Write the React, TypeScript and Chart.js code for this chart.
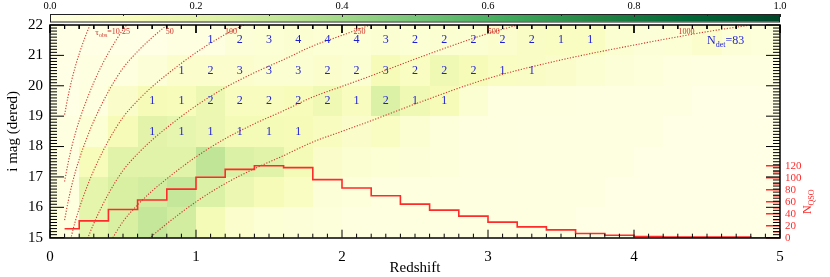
import React, { useEffect, useRef } from "react";
import { Chart, registerables } from "chart.js";

Chart.register(...registerables);

const SERIF = "'Liberation Serif', 'DejaVu Serif', serif";

// ---------------- data ----------------
const zEdges = [0, 0.2, 0.4, 0.6, 0.8, 1, 1.2, 1.4, 1.6, 1.8, 2, 2.2, 2.4, 2.6, 2.8, 3, 3.2, 3.4, 3.6, 3.8, 4, 4.2, 4.4, 4.6, 4.8, 5];
const magEdges = [15, 16, 17, 18, 19, 20, 21, 22];

// fraction (colour-bar value) per cell, one array per magnitude row
const frac15_16 = [0.02, 0.2, 0.25, 0.31, 0.27, 0.14, 0.07, 0.05, 0.04, 0.03, 0.02, 0.02, 0.02, 0.01, 0.01, 0.01, 0.01, 0.01, 0, 0, 0, 0, 0, 0, 0];
const frac16_17 = [0.02, 0.2, 0.25, 0.27, 0.31, 0.24, 0.17, 0.13, 0.1, 0.04, 0.03, 0.02, 0.02, 0.02, 0.01, 0.01, 0.01, 0.01, 0.01, 0, 0, 0, 0, 0, 0];
const frac17_18 = [0.01, 0.12, 0.22, 0.22, 0.22, 0.32, 0.24, 0.22, 0.14, 0.08, 0.06, 0.05, 0.04, 0.03, 0.02, 0.02, 0.01, 0.01, 0.01, 0.01, 0, 0, 0, 0, 0];
const frac18_19 = [0.01, 0.05, 0.13, 0.21, 0.19, 0.17, 0.14, 0.14, 0.13, 0.11, 0.08, 0.1, 0.06, 0.03, 0.02, 0.02, 0.01, 0.01, 0.01, 0.01, 0.01, 0, 0, 0, 0];
const frac19_20 = [0, 0.02, 0.08, 0.13, 0.12, 0.17, 0.11, 0.11, 0.12, 0.16, 0.11, 0.24, 0.16, 0.13, 0.06, 0.02, 0.02, 0.02, 0.01, 0.01, 0.01, 0.01, 0, 0, 0];
const frac20_21 = [0, 0.01, 0.02, 0.04, 0.07, 0.07, 0.07, 0.06, 0.06, 0.07, 0.06, 0.13, 0.1, 0.16, 0.13, 0.1, 0.09, 0.08, 0.06, 0.04, 0.03, 0.02, 0.01, 0.01, 0.01];
const frac21_22 = [0, 0, 0, 0, 0.01, 0.01, 0.04, 0.05, 0.06, 0.05, 0.05, 0.06, 0.05, 0.06, 0.06, 0.07, 0.09, 0.1, 0.1, 0.06, 0.04, 0.05, 0.07, 0.04, 0.03];

// detected-object counts per cell (0 = no label)
const det15_16 = [0, 0, 0, 0, 0, 0, 0, 0, 0, 0, 0, 0, 0, 0, 0, 0, 0, 0, 0, 0, 0, 0, 0, 0, 0];
const det16_17 = [0, 0, 0, 0, 0, 0, 0, 0, 0, 0, 0, 0, 0, 0, 0, 0, 0, 0, 0, 0, 0, 0, 0, 0, 0];
const det17_18 = [0, 0, 0, 0, 0, 0, 0, 0, 0, 0, 0, 0, 0, 0, 0, 0, 0, 0, 0, 0, 0, 0, 0, 0, 0];
const det18_19 = [0, 0, 0, 1, 1, 1, 1, 1, 1, 0, 0, 0, 0, 0, 0, 0, 0, 0, 0, 0, 0, 0, 0, 0, 0];
const det19_20 = [0, 0, 0, 1, 1, 2, 2, 2, 2, 2, 1, 2, 1, 1, 0, 0, 0, 0, 0, 0, 0, 0, 0, 0, 0];
const det20_21 = [0, 0, 0, 0, 1, 2, 3, 3, 3, 2, 2, 3, 2, 2, 2, 1, 1, 0, 0, 0, 0, 0, 0, 0, 0];
const det21_22 = [0, 0, 0, 0, 0, 1, 2, 3, 4, 4, 4, 3, 2, 2, 2, 2, 2, 1, 1, 0, 0, 0, 0, 0, 0];
const nDet = 83;

// N_QSO histogram (left bin edges, last entry closes the final bin)
const histZ = [0.1, 0.2, 0.4, 0.6, 0.8, 1.0, 1.2, 1.4, 1.6, 1.8, 2.0, 2.2, 2.4, 2.6, 2.8, 3.0, 3.2, 3.4, 3.6, 3.8, 4.0, 4.2, 4.4, 4.6, 4.8, 5.0];
const histN = [15, 28, 47, 63, 81, 101, 114, 120, 117, 97, 83, 70, 56, 46, 36, 26, 18, 13, 7, 4, 2, 1, 1, 1, 0, 0];

// constant tau_obs curves, [redshift, i mag]
const tau10 = [[0.1, 19.05], [0.125, 19.68], [0.15, 20.21], [0.175, 20.66], [0.2, 21.05], [0.25, 21.72], [0.274, 22.0]];
const tau25 = [[0.1, 16.85], [0.125, 17.48], [0.15, 18.01], [0.175, 18.46], [0.2, 18.85], [0.25, 19.52], [0.3, 20.11], [0.35, 20.63], [0.4, 21.08], [0.45, 21.48], [0.5, 21.85], [0.55, 22.13]];
const tau50 = [[0.1, 15.58], [0.125, 16.21], [0.15, 16.74], [0.175, 17.19], [0.2, 17.58], [0.25, 18.25], [0.3, 18.84], [0.4, 19.81], [0.5, 20.58], [0.6, 21.13], [0.7, 21.59], [0.8, 21.99], [0.85, 22.18]];
const tau100 = [[0.125, 14.59], [0.15, 15.12], [0.175, 15.57], [0.2, 15.96], [0.25, 16.63], [0.3, 17.22], [0.4, 18.19], [0.5, 18.96], [0.6, 19.51], [0.7, 19.97], [0.8, 20.37], [1.0, 21.09], [1.2, 21.69], [1.3, 21.94], [1.4, 22.18]];
const tau250 = [[0.25, 14.88], [0.3, 15.47], [0.4, 16.44], [0.5, 17.21], [0.6, 17.76], [0.7, 18.22], [0.8, 18.62], [1.0, 19.34], [1.2, 19.94], [1.4, 20.43], [1.6, 20.86], [1.8, 21.31], [2.0, 21.66], [2.2, 22.01]];
const tau500 = [[0.4, 14.76], [0.5, 15.53], [0.6, 16.08], [0.7, 16.54], [0.8, 16.94], [1.0, 17.66], [1.2, 18.26], [1.4, 18.75], [1.6, 19.18], [1.8, 19.63], [2.0, 19.98], [2.2, 20.33], [2.5, 20.88], [3.0, 21.72], [3.25, 22.06]];
const tau1000 = [[0.65, 14.84], [0.7, 15.06], [0.8, 15.46], [1.0, 16.18], [1.2, 16.78], [1.4, 17.27], [1.6, 17.7], [1.8, 18.15], [2.0, 18.5], [2.2, 18.85], [2.5, 19.4], [3.0, 20.24], [3.5, 20.85], [4.0, 21.34], [4.5, 21.78], [4.8, 22.0]];

// curve labels: text and anchor (redshift, mag)
const tauLabelText = ["=10", "25", "50", "100", "250", "500", "1000"];
const tauLabelZ = [0.31, 0.52, 0.82, 1.24, 2.12, 3.04, 4.36];
const tauLabelMag = 21.76;

const colorbarTicks = [0, 0.2, 0.4, 0.6, 0.8, 1.0];
const nQsoTicksMax = 120;

// ---------------- helpers ----------------
const YLGN = ["#ffffe5", "#f7fcb9", "#d9f0a3", "#addd8e", "#78c679", "#41ab5d", "#238443", "#006837", "#004529"];
function hexRgb(h: string) {
  return [parseInt(h.slice(1, 3), 16), parseInt(h.slice(3, 5), 16), parseInt(h.slice(5, 7), 16)];
}
function ylgn(v: number) {
  const t = Math.max(0, Math.min(1, v)) * (YLGN.length - 1);
  const i = Math.min(YLGN.length - 2, Math.floor(t));
  const f = t - i;
  const a = hexRgb(YLGN[i]);
  const b = hexRgb(YLGN[i + 1]);
  const c = a.map((av, k) => Math.round(av + (b[k] - av) * f));
  return `rgb(${c[0]},${c[1]},${c[2]})`;
}

const fracRows = [frac15_16, frac16_17, frac17_18, frac18_19, frac19_20, frac20_21, frac21_22];
const detRows = [det15_16, det16_17, det17_18, det18_19, det19_20, det20_21, det21_22];

const CURVE_COLOR = "rgba(208,55,45,1)";
const HIST_COLOR = "#ff2a2a";
const NUM_COLOR = "rgb(30,30,215)";

// axis decoration: inward tick marks built as gapped line segments (plot ~730 x 212.7 px)
const Z_PER_PX = (zEdges[zEdges.length - 1] - zEdges[0]) / 730;
const MAG_PER_PX = (magEdges[magEdges.length - 1] - magEdges[0]) / 212.7;
function buildBlackTicks() {
  const pts: { x: number; y: number }[] = [];
  const zLo = zEdges[0], zHi = zEdges[zEdges.length - 1];
  const mLo = magEdges[0], mHi = magEdges[magEdges.length - 1];
  for (let i = 0; i <= 50; i++) {
    const z = zLo + ((zHi - zLo) * i) / 50;
    const dm = (i % 10 === 0 ? 8 : 4) * MAG_PER_PX;
    pts.push({ x: z, y: mLo }, { x: z, y: mLo + dm }, { x: z, y: NaN });
    pts.push({ x: z, y: mHi }, { x: z, y: mHi - dm }, { x: z, y: NaN });
  }
  for (let i = 0; i <= 70; i++) {
    const m = mLo + ((mHi - mLo) * i) / 70;
    const dz = (i % 10 === 0 ? 14 : 7) * Z_PER_PX;
    pts.push({ x: zLo, y: m }, { x: zLo + dz, y: m }, { x: zLo, y: NaN });
    pts.push({ x: zHi, y: m }, { x: zHi - dz, y: m }, { x: zHi, y: NaN });
  }
  return pts;
}
function buildRedTicks() {
  const pts: { x: number; y: number }[] = [];
  const zHi = zEdges[zEdges.length - 1];
  for (let v = 0; v <= nQsoTicksMax; v += 10) {
    const dz = (v % 20 === 0 ? 14 : 7) * Z_PER_PX;
    pts.push({ x: zHi, y: v }, { x: zHi - dz, y: v }, { x: zHi, y: NaN });
  }
  return pts;
}

const heatPlugin = {
  id: "heat",
  beforeDatasetsDraw(chart: any) {
    const { ctx, scales } = chart;
    const x = scales.x, y = scales.y;
    ctx.save();
    fracRows.forEach((row, r) => {
      row.forEach((v, c) => {
        const x0 = Math.round(x.getPixelForValue(zEdges[c]));
        const x1 = Math.round(x.getPixelForValue(zEdges[c + 1]));
        const y0 = Math.round(y.getPixelForValue(magEdges[r + 1]));
        const y1 = Math.round(y.getPixelForValue(magEdges[r]));
        ctx.fillStyle = ylgn(v);
        ctx.fillRect(x0, y0, x1 - x0, y1 - y0);
      });
    });
    ctx.restore();
  },
  afterDatasetsDraw(chart: any) {
    const { ctx, scales } = chart;
    const x = scales.x, y = scales.y;
    ctx.save();
    ctx.setLineDash([]);
    // counts
    ctx.fillStyle = NUM_COLOR;
    ctx.font = `12px ${SERIF}`;
    ctx.textAlign = "center";
    ctx.textBaseline = "middle";
    detRows.forEach((row, r) => {
      row.forEach((n, c) => {
        if (!n) return;
        const cx = x.getPixelForValue((zEdges[c] + zEdges[c + 1]) / 2);
        const cy = y.getPixelForValue((magEdges[r] + magEdges[r + 1]) / 2);
        ctx.fillText(String(n), cx, cy);
      });
    });
    // N_det label
    const nx = x.getPixelForValue(4.5);
    const ny = y.getPixelForValue(21.5);
    ctx.textAlign = "left";
    ctx.textBaseline = "alphabetic";
    ctx.font = `12px ${SERIF}`;
    ctx.fillText("N", nx, ny + 4);
    let w = ctx.measureText("N").width;
    ctx.font = `8px ${SERIF}`;
    ctx.fillText("det", nx + w, ny + 7);
    w += ctx.measureText("det").width;
    ctx.font = `12px ${SERIF}`;
    ctx.fillText("=" + nDet, nx + w, ny + 4);

    // tau labels
    ctx.fillStyle = "rgb(205,50,40)";
    const ly = y.getPixelForValue(tauLabelMag);
    tauLabelText.forEach((t, i) => {
      const lx = x.getPixelForValue(tauLabelZ[i]);
      if (i === 0) {
        ctx.textAlign = "left";
        ctx.textBaseline = "middle";
        ctx.font = `9px ${SERIF}`;
        ctx.fillText("\u03C4", lx, ly);
        let ww = ctx.measureText("\u03C4").width;
        ctx.font = `6px ${SERIF}`;
        ctx.fillText("obs", lx + ww, ly + 3);
        ww += ctx.measureText("obs").width;
        ctx.font = `8px ${SERIF}`;
        ctx.fillText(t, lx + ww, ly);
      } else {
        ctx.textAlign = "center";
        ctx.textBaseline = "middle";
        ctx.font = `8px ${SERIF}`;
        ctx.fillText(t, lx, ly);
      }
    });
    ctx.restore();
  },
};

const framePlugin = {
  id: "frame",
  afterDraw(chart: any) {
    const { ctx, chartArea, scales } = chart;
    const left = Math.round(chartArea.left);
    const right = Math.round(chartArea.right);
    const top = Math.round(chartArea.top);
    const bottom = Math.round(chartArea.bottom);
    const yN = scales.yN;
    ctx.save();
    ctx.setLineDash([]);
    ctx.strokeStyle = "#000";
    ctx.lineWidth = 1.5;
    ctx.strokeRect(left, top, right - left, bottom - top);
    // N_QSO title
    ctx.fillStyle = HIST_COLOR;
    ctx.translate(808, yN.getPixelForValue(60));
    ctx.rotate(-Math.PI / 2);
    ctx.font = `12px ${SERIF}`;
    const wN = ctx.measureText("N").width;
    ctx.font = `8px ${SERIF}`;
    const wQ = ctx.measureText("QSO").width;
    const start = -(wN + wQ) / 2;
    ctx.textAlign = "left";
    ctx.textBaseline = "middle";
    ctx.font = `12px ${SERIF}`;
    ctx.fillText("N", start, 0);
    ctx.font = `8px ${SERIF}`;
    ctx.fillText("QSO", start + wN, 4);
    ctx.restore();

    // colour bar
    ctx.save();
    ctx.setLineDash([]);
    const cbTop = 14, cbBot = 21.5;
    const grad = ctx.createLinearGradient(left, 0, right, 0);
    YLGN.forEach((c, i) => grad.addColorStop(i / (YLGN.length - 1), c));
    ctx.fillStyle = grad;
    ctx.fillRect(left, cbTop, right - left, cbBot - cbTop);
    ctx.strokeStyle = "#222";
    ctx.lineWidth = 1;
    ctx.strokeRect(left + 0.5, cbTop + 0.5, right - left - 1, cbBot - cbTop);
    ctx.beginPath();
    for (let i = 0; i <= 10; i++) {
      const px = Math.round(left + (right - left) * (i / 10)) + 0.5;
      ctx.moveTo(px, cbTop);
      ctx.lineTo(px, cbTop + (i % 2 === 0 ? 3 : 2));
    }
    ctx.stroke();
    ctx.fillStyle = "#000";
    ctx.font = `10.5px ${SERIF}`;
    ctx.textAlign = "center";
    ctx.textBaseline = "middle";
    colorbarTicks.forEach((v) => {
      ctx.fillText(v.toFixed(1), left + (right - left) * v, 6);
    });
    ctx.restore();
  },
};

const toXY = (arr: number[][]) => arr.map((p) => ({ x: p[0], y: p[1] }));

export default function App() {
  const ref = useRef<HTMLCanvasElement>(null);
  useEffect(() => {
    const curveDs = (arr: number[][]) => ({
      data: toXY(arr),
      yAxisID: "y",
      borderColor: CURVE_COLOR,
      borderWidth: 1.1,
      borderDash: [1.2, 1.6],
      pointRadius: 0,
      cubicInterpolationMode: "monotone" as const,
      fill: false,
    });
    const chart = new Chart(ref.current as HTMLCanvasElement, {
      type: "line",
      data: {
        datasets: [
          {
            data: buildBlackTicks(),
            yAxisID: "y",
            borderColor: "#000000",
            borderWidth: 1,
            pointRadius: 0,
            spanGaps: false,
            tension: 0,
            fill: false,
            clip: false,
          } as any,
          {
            data: buildRedTicks(),
            yAxisID: "yN",
            borderColor: HIST_COLOR,
            borderWidth: 1.5,
            pointRadius: 0,
            spanGaps: false,
            tension: 0,
            fill: false,
            clip: false,
          } as any,
          {
            data: histZ.map((z, i) => ({ x: z, y: histN[i] })),
            yAxisID: "yN",
            stepped: "before",
            borderColor: HIST_COLOR,
            borderWidth: 1.6,
            pointRadius: 0,
            fill: false,
          } as any,
          curveDs(tau10),
          curveDs(tau25),
          curveDs(tau50),
          curveDs(tau100),
          curveDs(tau250),
          curveDs(tau500),
          curveDs(tau1000),
        ],
      },
      options: {
        animation: false,
        responsive: false,
        devicePixelRatio: 1,
        layout: { padding: { top: 25, left: 0, right: 0, bottom: 0 } },
        plugins: { legend: { display: false }, tooltip: { enabled: false } },
        scales: {
          x: {
            type: "linear",
            position: "bottom",
            min: 0,
            max: 5,
            ticks: { stepSize: 1, color: "#000", font: { family: SERIF, size: 15 }, padding: 10, maxRotation: 0, autoSkip: false },
            grid: { display: false, drawTicks: false },
            border: { display: false },
            title: { display: true, text: "Redshift", color: "#000", font: { family: SERIF, size: 15 }, padding: { top: 0, bottom: 0 } },
            afterFit: (s: any) => {
              s.height = 39.3;
            },
          },
          y: {
            type: "linear",
            position: "left",
            min: 15,
            max: 22,
            ticks: { stepSize: 1, color: "#000", font: { family: SERIF, size: 15 }, padding: 7, autoSkip: false },
            grid: { display: false, drawTicks: false },
            border: { display: false },
            title: { display: true, text: "i mag (dered)", color: "#000", font: { family: SERIF, size: 15 }, padding: { top: 4, bottom: 0 } },
            afterFit: (s: any) => {
              s.width = 50;
            },
          },
          yN: {
            type: "linear",
            position: "right",
            min: 0,
            max: 355,
            ticks: {
              stepSize: 20,
              autoSkip: false,
              color: HIST_COLOR,
              font: { family: SERIF, size: 11 },
              padding: 5,
              callback: (v: any) => (Number(v) <= nQsoTicksMax && Number(v) % 20 === 0 ? String(v) : ""),
            },
            grid: { display: false, drawTicks: false },
            border: { display: false },
            afterFit: (s: any) => {
              s.width = 50;
            },
          },
        },
      },
      plugins: [heatPlugin, framePlugin],
    } as any);
    return () => chart.destroy();
  }, []);
  return (
    <div style={{ position: "absolute", left: 0, top: 0, width: 830, height: 277, background: "#fff" }}>
      <canvas ref={ref} width={830} height={277} style={{ width: 830, height: 277, display: "block" }} />
    </div>
  );
}
